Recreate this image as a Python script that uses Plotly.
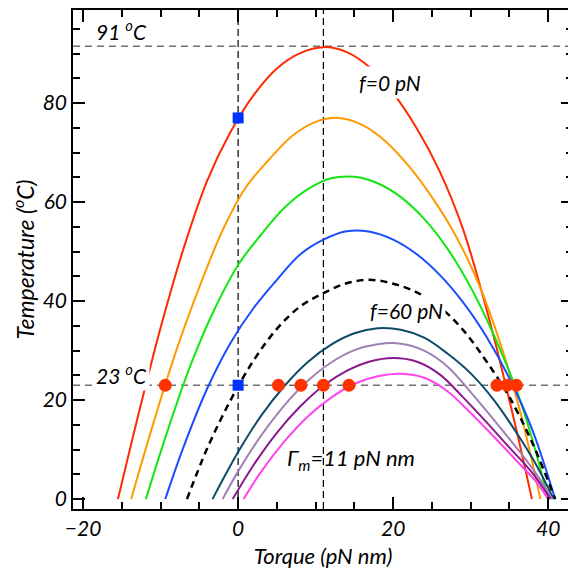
import plotly.graph_objects as go

# ---- data (torque in pN nm, temperature in degC) ----
f0_torque = [-15.5, -13, -10, -7, -4, -1, 2, 5, 8, 11, 14, 17, 20, 23, 26, 29, 32, 34, 36, 37.9]
f0_temp = [0, 16.2, 34.6, 50.8, 64.3, 74.1, 81.6, 87.0, 90.1, 91.3, 90.3, 87.2, 82.0, 75.0, 66.2, 54.6, 38.6, 26.4, 13.3, 0]

orange_torque = [-13.8, -11, -8, -5, -2, 1, 4, 7, 10, 13, 16, 19, 22, 25, 28, 31, 34, 36.5, 39]
orange_temp = [0, 15.0, 29.9, 42.8, 54.3, 63.0, 68.6, 73.4, 76.2, 77.0, 75.6, 72.3, 67.3, 61.0, 53.4, 43.6, 30.6, 17.0, 0]

green_torque = [-11.9, -9, -6, -3, 0, 3, 6, 9, 12, 15, 18, 21, 24, 27, 30, 33, 36, 38, 40]
green_temp = [0, 14.3, 27.6, 38.5, 47.3, 53.5, 58.9, 62.6, 64.8, 65.1, 63.8, 61.0, 56.6, 50.6, 42.8, 33.1, 21.6, 11.8, 0]

blue_torque = [-9.4, -7, -4, -1, 2, 5, 8, 11, 14, 17, 20, 23, 26, 29, 32, 35, 38, 40.9]
blue_temp = [0, 10.7, 22.3, 31.5, 38.6, 44.3, 49.4, 52.4, 54.1, 54.0, 52.4, 49.5, 45.3, 39.8, 32.9, 24.4, 13.8, 0]

dashed_torque = [-6.6, -4, -1, 2, 5, 8, 11, 14, 17, 20, 23, 26, 29, 32, 35, 38, 40.9]
dashed_temp = [0, 10.2, 19.9, 28.0, 34.4, 38.9, 41.6, 43.6, 44.3, 43.5, 41.8, 38.8, 34.2, 27.9, 20.6, 11.2, 0]

f60_torque = [-3.3, 0, 3, 6, 9, 12, 15, 18, 21, 24, 27, 30, 33, 36, 38.5, 40.7]
f60_temp = [0, 9.5, 16.9, 22.9, 27.7, 31.2, 33.5, 34.5, 34.2, 32.6, 29.4, 25.4, 20.0, 13.2, 6.8, 0]

lilac_torque = [-2, 0, 3, 6, 9, 12, 15, 18, 21, 24, 27, 30, 33, 36, 38.5, 40.5]
lilac_temp = [0, 5.6, 12.9, 19.0, 23.9, 27.6, 30.1, 31.3, 31.4, 30.0, 26.8, 21.6, 16.0, 10.2, 5.0, 0]

purple_torque = [-0.7, 2, 5, 8, 11, 14, 17, 20, 23, 26, 29, 32, 35, 38, 40.3]
purple_temp = [0, 6.9, 13.4, 18.7, 22.9, 25.9, 27.8, 28.5, 27.8, 25.2, 20.6, 15.6, 10.4, 5.2, 0]

magenta_torque = [0.7, 3, 6, 9, 12, 15, 18, 21, 24, 27, 30, 33, 36, 38.5, 40]
magenta_temp = [0, 5.6, 11.7, 16.7, 20.5, 23.3, 24.8, 25.3, 24.5, 21.8, 17.4, 12.6, 7.6, 3.4, 0]

dot_torque = [-9.4, 5.2, 8.1, 11.0, 14.3, 33.4, 34.7, 35.9]
dot_temp = [23, 23, 23, 23, 23, 23, 23, 23]

square_torque = [0, 0]
square_temp = [77, 23]

ref_temps = [91.5, 23]      # horizontal grey dashed lines
ref_torques = [0, 11]       # vertical black dashed lines

x_ticks = [-20, 0, 20, 40]
y_ticks = [0, 20, 40, 60, 80]

FONT = "Lato"

curves = [
    (f0_torque, f0_temp, "#ff2a00", "solid", 2),
    (orange_torque, orange_temp, "#ff9a00", "solid", 2),
    (green_torque, green_temp, "#14e614", "solid", 2),
    (blue_torque, blue_temp, "#1a4dff", "solid", 2),
    (dashed_torque, dashed_temp, "#000000", "7px,5px", 2.5),
    (f60_torque, f60_temp, "#0e4a6a", "solid", 2),
    (lilac_torque, lilac_temp, "#a080b4", "solid", 2),
    (purple_torque, purple_temp, "#8a1a8c", "solid", 2),
    (magenta_torque, magenta_temp, "#ff44ee", "solid", 2),
]

fig = go.Figure()
for xs, ys, col, dash, w in curves:
    fig.add_trace(go.Scatter(x=xs, y=ys, mode="lines",
                             line=dict(color=col, width=w, dash=dash, shape="spline", smoothing=1.0),
                             showlegend=False, hoverinfo="skip"))

fig.add_trace(go.Scatter(x=dot_torque, y=dot_temp, mode="markers",
                         marker=dict(symbol="circle", size=13, color="#ff3300"),
                         showlegend=False))
fig.add_trace(go.Scatter(x=square_torque, y=square_temp, mode="markers",
                         marker=dict(symbol="square", size=11, color="#0033ff"),
                         showlegend=False))

for t in ref_temps:
    fig.add_shape(type="line", xref="paper", yref="y", x0=0, x1=1, y0=t, y1=t,
                  line=dict(color="#707070", width=1.5, dash="7px,5px"), layer="below")
for q in ref_torques:
    fig.add_shape(type="line", xref="x", yref="paper", x0=q, x1=q, y0=0, y1=1,
                  line=dict(color="#000000", width=1.2, dash="7px,4px"), layer="below")

afont = dict(family=FONT, size=21, color="black", style="italic")
fig.add_annotation(x=-15, y=94.8, text="91 <sup>o</sup>C", showarrow=False, font=afont)
fig.add_annotation(x=-15, y=25.3, text="23 <sup>o</sup>C", showarrow=False, font=afont,
                   bgcolor="white", borderpad=2)
fig.add_annotation(x=19.6, y=84.1, text="f=0 pN", showarrow=False, font=afont,
                   bgcolor="white", borderpad=3)
fig.add_annotation(x=21.7, y=38.0, text="f=60 pN", showarrow=False, font=afont,
                   bgcolor="white", borderpad=2)
fig.add_annotation(x=14.5, y=8.1, text="Γ<sub>m</sub>=11 pN nm", showarrow=False,
                   font=dict(family=FONT, size=22, color="black", style="italic"))

axis_common = dict(showline=True, linecolor="black", linewidth=1.5, mirror="allticks",
                   ticks="inside", ticklen=12, tickwidth=1.5, tickcolor="black",
                   showgrid=False, zeroline=False,
                   tickfont=dict(family=FONT, size=21, color="black", style="italic"))

fig.update_xaxes(range=[-21.3, 43.2], tickvals=x_ticks,
                 minor=dict(dtick=5, tick0=0, ticks="inside", ticklen=7, tickwidth=1.5, tickcolor="black"),
                 title=dict(text="Torque (pN nm)", font=dict(family=FONT, size=22, color="black", style="italic"),
                            standoff=10),
                 **axis_common)
fig.update_yaxes(range=[-2.0, 98.8], tickvals=y_ticks,
                 minor=dict(dtick=5, tick0=0, ticks="inside", ticklen=7, tickwidth=1.5, tickcolor="black"),
                 title=dict(text="Temperature (<sup>o</sup>C)", font=dict(family=FONT, size=23, color="black", style="italic"),
                            standoff=8),
                 **axis_common)

fig.update_layout(width=568, height=568, margin=dict(l=65, r=3, t=2, b=67, autoexpand=False),
                  plot_bgcolor="white", paper_bgcolor="white",
                  font=dict(family=FONT, style="italic"))

fig.write_html("out.html")
